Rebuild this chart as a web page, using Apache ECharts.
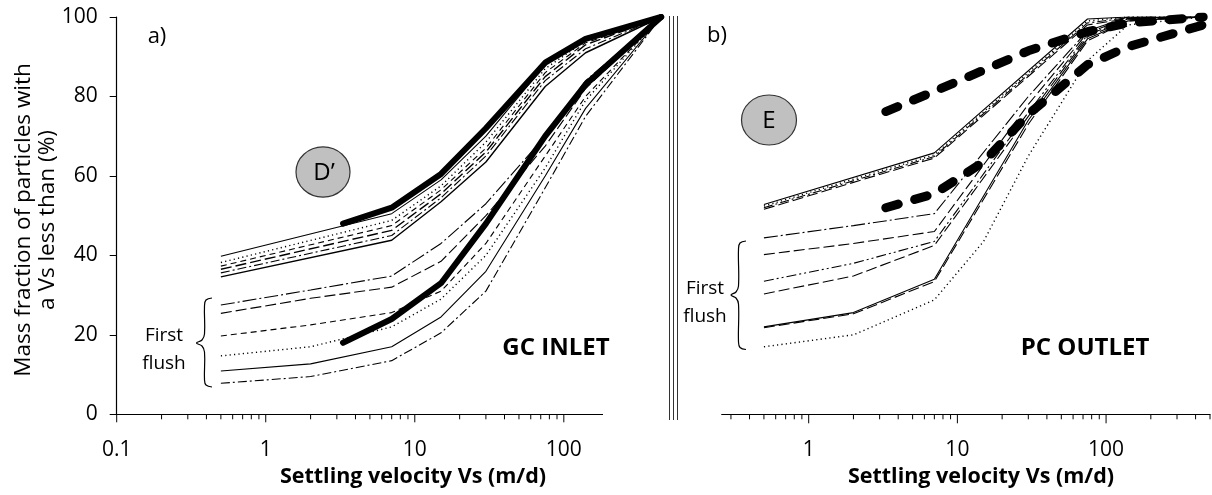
<!DOCTYPE html>
<html>
<head>
    <meta charset="utf-8">
    <title>Settling velocity</title>
    <script src="https://cdn.jsdelivr.net/npm/echarts@6/dist/echarts.min.js"></script>
    <style>
        html, body, #main {
            width: 100%;
            height: 100%;
            margin: 0;
            background: #fff;
        }
    </style>
</head>
<body>
    <div id="main"></div>
    <script type="text/javascript">
        // settling velocity nodes (m/d), shared by both panels
        var xNodes = [0.5, 2, 3.3, 7, 15, 30, 75, 140, 450];

        // a) GC INLET
        var gcThickUpper = [null, null, 48, 52, 60.5, 72, 88.5, 94.5, 100];
        var gcThickLower = [null, null, 18, 24, 33, 48, 70, 83, 100];
        var gcTop1 = [39.8, null, null, 50.5, 59, 70, 88, 95, 100];
        var gcTop2 = [38.2, null, null, 48.8, 57.5, 68.5, 87, 94, 100];
        var gcTop3 = [37.3, null, null, 47.5, 56.5, 67, 86, 93.5, 100];
        var gcTop4 = [36.5, null, null, 46.3, 55.5, 66, 85, 93, 100];
        var gcTop5 = [35.6, null, null, 45, 54.5, 65, 84, 92, 100];
        var gcTop6 = [34.6, null, null, 43.8, 53.5, 63.5, 82.5, 91, 100];
        var gcFF1 = [27.5, 31.3, null, 34.8, 43, 53, 70, 84, 100];
        var gcFF2 = [25.4, 29.2, null, 32, 38.5, 50, 67.5, 82, 100];
        var gcFF3 = [19.7, 22.5, null, 25.6, 31, 43, 65, 80, 100];
        var gcFF4 = [14.7, 17, null, 22, 29, 40, 62, 79, 100];
        var gcFF5 = [10.9, 12.7, null, 17, 24.5, 36, 60, 77, 100];
        var gcFF6 = [7.8, 9.5, null, 13.5, 20.5, 31, 57, 75, 100];

        // b) PC OUTLET
        var pcThickUpper = [null, null, 76.2, 81.3, 86.6, 91.5, 96.3, 98.5, 100];
        var pcThickLower = [null, null, 52, 55.5, 63.5, 75.5, 88, 92.5, 98];
        var pcTop1 = [52.8, null, null, 65.8, null, null, 99.5, 100, 100];
        var pcTop2 = [52.4, null, null, 65.3, null, null, 99, 100, 100];
        var pcTop3 = [52.0, null, null, 64.9, null, null, 98.5, 99.8, 100];
        var pcTop4 = [51.6, null, null, 64.5, null, null, 98, 99.6, 100];
        var pcFF1 = [44.4, 47.5, null, 50.5, null, 80, 96.5, 100, 100];
        var pcFF2 = [40.2, 43, null, 46, null, 78, 96, 99.8, 100];
        var pcFF3 = [33.5, 38, null, 43.5, null, 76, 95.5, 99.5, 100];
        var pcFF4 = [30.3, 34.8, null, 42.5, null, 75, 95, 99.3, 100];
        var pcFF5 = [22, 25.6, null, 34, null, 74, 94.5, 99, 100];
        var pcFF6 = [21.8, 25.3, null, 33.4, null, 73, 94, 99, 100];
        var pcFF7 = [17, 20, null, 28.8, 43.5, 65, 89, 98, 100];

        // tick marks of the log axes
        var leftMajor = [0.1, 1, 10, 100];
        var leftMinor = [0.2, 0.3, 0.4, 0.5, 0.6, 0.7, 0.8, 0.9, 2, 3, 4, 5, 6, 7, 8, 9, 20, 30, 40, 50, 60, 70, 80, 90];
        var rightMajor = [1, 10, 100];
        var rightMinor = [0.3, 0.4, 0.5, 0.6, 0.7, 0.8, 0.9, 2, 3, 4, 5, 6, 7, 8, 9, 20, 30, 40, 50, 60, 70, 80, 90, 200, 300, 400, 500];

        var FONT = '"Open Sans"';
        var SOLID = 'solid';
        var DOT = [1.2, 3.2];
        var DASH = [6, 4];
        var LDASH = [11, 4];
        var DASHDOT = [9, 3, 2, 3];
        var LDASHDOT = [14, 3, 2, 3];
        var DASHDOTDOT = [10, 3, 2, 3, 2, 3];

        function pairs(ys) {
            return xNodes.map(function (x, i) { return [x, ys[i]]; });
        }

        function line(ys, grid, type, width, z, cap) {
            return {
                type: 'line',
                xAxisIndex: grid,
                yAxisIndex: grid,
                data: pairs(ys),
                connectNulls: true,
                showSymbol: false,
                symbol: 'none',
                silent: true,
                z: z || 2,
                lineStyle: { color: '#000', width: width || 1.1, type: type, cap: cap || 'butt' }
            };
        }

        function tickSeries(grid, major, minor, majorLen, minorLen) {
            var data = major.map(function (v) { return [v, 0, majorLen]; })
                .concat(minor.map(function (v) { return [v, 0, minorLen]; }));
            return {
                type: 'custom',
                xAxisIndex: grid,
                yAxisIndex: grid,
                data: data,
                silent: true,
                clip: false,
                renderItem: function (params, api) {
                    var p = api.coord([api.value(0), 0]);
                    return {
                        type: 'line',
                        shape: { x1: p[0], y1: p[1], x2: p[0], y2: p[1] + api.value(2) },
                        style: { stroke: '#000', lineWidth: 1 }
                    };
                }
            };
        }

        function isDecade(v) {
            var l = Math.log10(v);
            return Math.abs(l - Math.round(l)) < 1e-6;
        }

        function txt(x, y, s, font, extra) {
            var el = {
                type: 'text', z: 60, x: x, y: y,
                style: { text: s, font: font + ' ' + FONT, fill: '#000', align: 'center', verticalAlign: 'middle' }
            };
            if (extra) { el.rotation = extra; }
            return el;
        }

        var myChart = echarts.init(document.getElementById('main'));

        var xAxisBase = {
            type: 'log',
            logBase: 10,
            splitLine: { show: false },
            axisTick: { show: false },
            axisLine: { onZero: false, lineStyle: { color: '#000', width: 1.2 } },
            axisLabel: {
                color: '#000', fontFamily: 'Open Sans', fontSize: 21, margin: 25,
                showMaxLabel: false,
                formatter: function (v) { return isDecade(v) ? String(+v.toPrecision(6)) : ''; }
            }
        };

        var option = {
            animation: false,
            backgroundColor: '#fff',
            grid: [
                { left: 116.7, top: 17, width: 551.3, height: 397.3 },
                { left: 721.7, top: 17, width: 488.3, height: 397.3 }
            ],
            xAxis: [
                echarts.util.merge({ gridIndex: 0, min: 0.1, max: 500 }, xAxisBase, true),
                echarts.util.merge({ gridIndex: 1, min: 0.26, max: 500 }, xAxisBase, true)
            ],
            yAxis: [
                {
                    gridIndex: 0, type: 'value', min: 0, max: 100, interval: 20,
                    splitLine: { show: false },
                    axisLine: { show: true, lineStyle: { color: '#000', width: 1.2 } },
                    axisTick: { show: true, length: 7, lineStyle: { color: '#000' } },
                    axisLabel: { color: '#000', fontFamily: 'Open Sans', fontSize: 21, margin: 19 }
                },
                { gridIndex: 1, type: 'value', min: 0, max: 100, show: false }
            ],
            series: [
                tickSeries(0, leftMajor, leftMinor, 8, 5),
                tickSeries(1, rightMajor, rightMinor, 9, 5),

                line(gcTop1, 0, SOLID),
                line(gcTop2, 0, DOT, 1.4),
                line(gcTop3, 0, DASH),
                line(gcTop4, 0, LDASH, 1.4),
                line(gcTop5, 0, DASHDOT),
                line(gcTop6, 0, SOLID, 1.4),
                line(gcFF1, 0, LDASHDOT),
                line(gcFF2, 0, LDASH),
                line(gcFF3, 0, DASH),
                line(gcFF4, 0, DOT, 1.4),
                line(gcFF5, 0, SOLID),
                line(gcFF6, 0, DASHDOT),
                line(gcThickUpper, 0, SOLID, 6, 5, 'round'),
                line(gcThickLower, 0, SOLID, 6, 5, 'round'),

                line(pcTop1, 1, SOLID),
                line(pcTop2, 1, DOT, 1.4),
                line(pcTop3, 1, DASHDOT),
                line(pcTop4, 1, LDASH),
                line(pcFF1, 1, LDASHDOT),
                line(pcFF2, 1, LDASH),
                line(pcFF3, 1, DASHDOTDOT),
                line(pcFF4, 1, LDASH),
                line(pcFF5, 1, SOLID),
                line(pcFF6, 1, LDASH),
                line(pcFF7, 1, DOT, 1.4),
                line(pcThickUpper, 1, [13, 17], 9, 5, 'round'),
                line(pcThickLower, 1, [13, 17], 9, 5, 'round')
            ],
            graphic: [
                // hide the end of the left x axis before the break
                { type: 'rect', z: 50, shape: { x: 603, y: 408, width: 66, height: 14 }, style: { fill: '#fff' } },
                // panel separator
                { type: 'line', z: 60, shape: { x1: 669.5, y1: 16, x2: 669.5, y2: 420 }, style: { stroke: '#333', lineWidth: 1 } },
                { type: 'line', z: 60, shape: { x1: 673.5, y1: 16, x2: 673.5, y2: 420 }, style: { stroke: '#333', lineWidth: 1 } },
                { type: 'line', z: 60, shape: { x1: 677.5, y1: 16, x2: 677.5, y2: 420 }, style: { stroke: '#333', lineWidth: 1 } },

                // y axis title
                txt(24, 220, 'Mass fraction of particles with', '22.5px', Math.PI / 2),
                txt(48, 220, 'a Vs less than (%)', '22.5px', Math.PI / 2),
                // x axis titles
                txt(413, 477, 'Settling velocity Vs (m/d)', 'bold 21.5px'),
                txt(981, 477, 'Settling velocity Vs (m/d)', 'bold 21.5px'),

                // panel tags
                txt(157, 37, 'a)', '22px'),
                txt(717, 36, 'b)', '22px'),
                txt(556, 348, 'GC INLET', 'bold 24px'),
                txt(1085, 348, 'PC OUTLET', 'bold 24px'),

                // D' and E markers
                { type: 'circle', z: 60, x: 323, y: 172, scaleY: 0.93, shape: { cx: 0, cy: 0, r: 27 }, style: { fill: '#c0c0c0', stroke: '#333', lineWidth: 1.2 } },
                txt(324, 173, 'D\u2019', '24px'),
                { type: 'circle', z: 60, x: 769, y: 120, scaleY: 0.91, shape: { cx: 0, cy: 0, r: 27.5 }, style: { fill: '#c0c0c0', stroke: '#333', lineWidth: 1.2 } },
                txt(769, 121, 'E', '24px'),

                // first flush braces
                { type: 'polyline', z: 60, shape: { points: [[212, 298], [206, 300], [204.5, 306], [204.5, 334], [202, 340], [196.5, 343], [202, 346], [204.5, 352], [204.5, 380], [206, 385], [212, 387]], smooth: 0.4 }, style: { stroke: '#000', lineWidth: 1.2, fill: null } },
                txt(164, 336, 'First', '19px'),
                txt(164, 364, 'flush', '19px'),

                { type: 'polyline', z: 60, shape: { points: [[746, 241], [740, 243], [738.5, 249], [738.5, 286], [736, 292], [731, 295], [736, 298], [738.5, 304], [738.5, 342], [740, 347.5], [746, 349.5]], smooth: 0.4 }, style: { stroke: '#000', lineWidth: 1.2, fill: null } },
                txt(705, 289, 'First', '19px'),
                txt(705, 317, 'flush', '19px')
            ]
        };

        myChart.setOption(option);
        window.onresize = myChart.resize;
    </script>
</body>
</html>
